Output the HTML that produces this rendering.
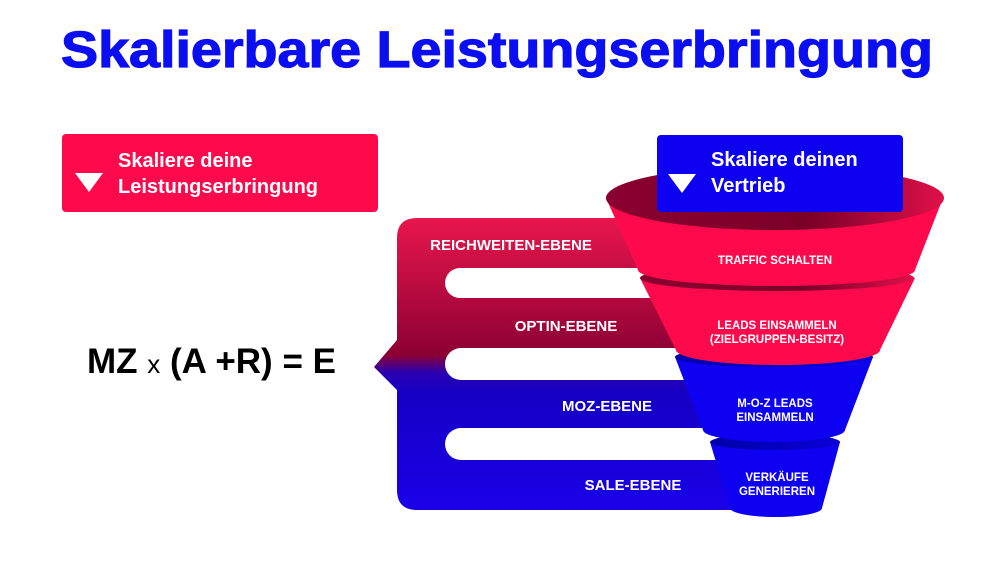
<!DOCTYPE html>
<html><head><meta charset="utf-8"><style>
html,body{margin:0;padding:0;background:#fff;}
svg{display:block;}
text{font-family:"Liberation Sans","DejaVu Sans",sans-serif;font-weight:bold;}
</style></head><body>
<svg width="1000" height="563" viewBox="0 0 1000 563" xmlns="http://www.w3.org/2000/svg">
<defs>
<linearGradient id="br" x1="0" y1="218" x2="0" y2="510" gradientUnits="userSpaceOnUse">
<stop offset="0" stop-color="#e8164c"/>
<stop offset="0.47" stop-color="#8c0034"/>
<stop offset="0.53" stop-color="#2a00b0"/>
<stop offset="0.6" stop-color="#1500c4"/>
<stop offset="1" stop-color="#1a00e8"/>
</linearGradient>
<linearGradient id="rimR" x1="0" y1="0" x2="1" y2="0">
<stop offset="0" stop-color="#8a0030"/>
<stop offset="0.6" stop-color="#7a0028"/>
<stop offset="1" stop-color="#e0104a"/>
</linearGradient>
<linearGradient id="rimB" x1="0" y1="0" x2="1" y2="0">
<stop offset="0" stop-color="#0000a8"/>
<stop offset="1" stop-color="#0a00d8"/>
</linearGradient>
</defs>

<text x="497" y="67" text-anchor="middle" font-size="51" fill="#0a0ef0" stroke="#0a0ef0" stroke-width="1.2" textLength="872" lengthAdjust="spacingAndGlyphs">Skalierbare Leistungserbringung</text>

<rect x="62" y="134" width="316" height="78" rx="4" fill="#fe0a4c"/>
<polygon points="75,173 103,173 89,192" fill="#fff"/>
<text x="118" y="167" font-size="20" fill="#fff">Skaliere deine</text>
<text x="118" y="193" font-size="20" fill="#fff">Leistungserbringung</text>

<text x="87" y="373" font-size="35" fill="#000">MZ <tspan font-size="26" font-weight="normal">x</tspan> (A +R) = E</text>

<path d="M417,218 L760,218 L760,510 L417,510 Q397,510 397,490 L397,390 L374,367 L397,340 L397,238 Q397,218 417,218 Z" fill="url(#br)"/>
<rect x="445" y="268" width="300" height="30" rx="15" fill="#fff"/>
<rect x="445" y="348" width="300" height="32" rx="16" fill="#fff"/>
<rect x="445" y="428" width="300" height="32" rx="16" fill="#fff"/>
<text x="511" y="250" text-anchor="middle" font-size="15" fill="#fff">REICHWEITEN-EBENE</text>
<text x="566" y="331" text-anchor="middle" font-size="15" fill="#fff">OPTIN-EBENE</text>
<text x="607" y="411" text-anchor="middle" font-size="15" fill="#fff">MOZ-EBENE</text>
<text x="633" y="490" text-anchor="middle" font-size="15" fill="#fff">SALE-EBENE</text>

<path d="M710,442 L730,508 A46,9 0 0 0 822,508 L840,442 Z" fill="#0e00f0"/>
<ellipse cx="775" cy="442" rx="65" ry="8" fill="url(#rimB)"/>
<path d="M675,357 L703,430 A71,12 0 0 0 845,430 L873,357 Z" fill="#0e00f0"/>
<ellipse cx="774" cy="357" rx="99" ry="10" fill="url(#rimB)"/>
<path d="M640,278 L676,350 A102,15 0 0 0 880,350 L915,278 Z" fill="#fe0a4c"/>
<ellipse cx="777" cy="278" rx="137" ry="13" fill="url(#rimR)"/>
<path d="M606,198 L638,270 A138.5,16 0 0 0 915,270 L943,198 Z" fill="#fe0a4c"/>
<ellipse cx="775" cy="198" rx="169" ry="32" fill="url(#rimR)"/>

<text x="775" y="264" text-anchor="middle" font-size="11.5" fill="#fff">TRAFFIC SCHALTEN</text>
<text x="777" y="329" text-anchor="middle" font-size="11.5" fill="#fff">LEADS EINSAMMELN</text>
<text x="777" y="343" text-anchor="middle" font-size="11.5" fill="#fff">(ZIELGRUPPEN-BESITZ)</text>
<text x="775" y="407" text-anchor="middle" font-size="11.5" fill="#fff">M-O-Z LEADS</text>
<text x="775" y="421" text-anchor="middle" font-size="11.5" fill="#fff">EINSAMMELN</text>
<text x="777" y="481" text-anchor="middle" font-size="11.5" fill="#fff">VERKÄUFE</text>
<text x="777" y="495" text-anchor="middle" font-size="11.5" fill="#fff">GENERIEREN</text>

<rect x="657" y="135" width="246" height="77" rx="4" fill="#0e00f0"/>
<polygon points="668,174 696,174 682,193" fill="#fff"/>
<text x="711" y="166" font-size="20" fill="#fff">Skaliere deinen</text>
<text x="711" y="192" font-size="20" fill="#fff">Vertrieb</text>
</svg>
</body></html>
